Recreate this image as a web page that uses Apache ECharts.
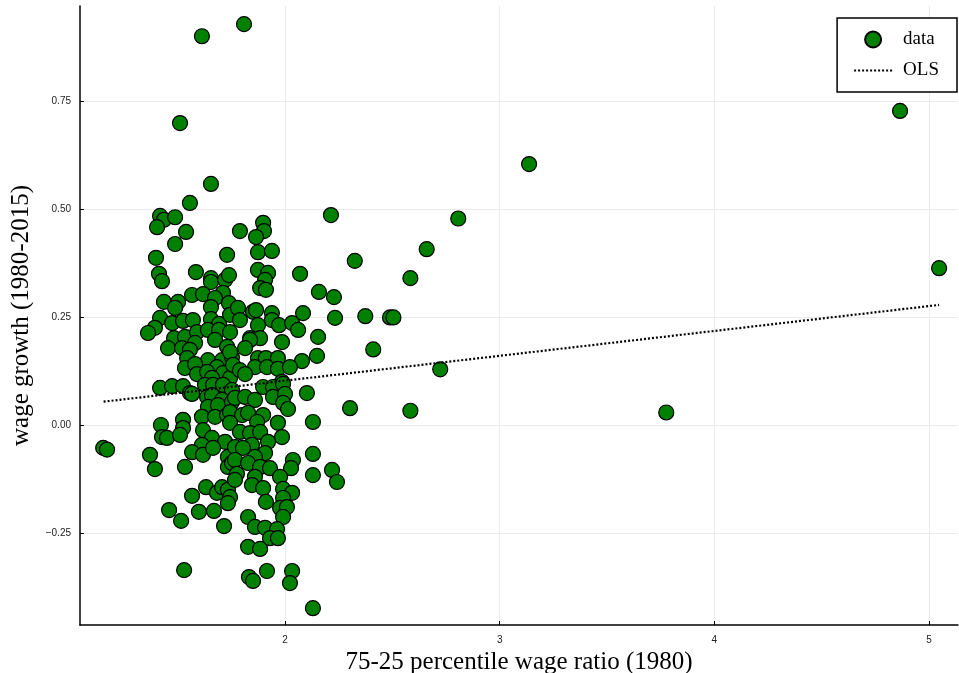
<!DOCTYPE html>
<html>
<head>
<meta charset="utf-8">
<script src="https://cdn.jsdelivr.net/npm/echarts@6/dist/echarts.min.js"></script>
<style>
  html, body { margin: 0; padding: 0; background: #fff; }
  #main { width: 959px; height: 673px; }
</style>
</head>
<body>
<div id="main"></div>
<script>
// values
var wageData = [
  [1.613,0.900],[1.809,0.928],[1.511,0.699],[1.655,0.558],[1.557,0.514],
  [1.418,0.484],[1.436,0.475],[1.488,0.481],[1.404,0.458],[1.539,0.447],
  [1.488,0.419],[1.399,0.387],[1.730,0.394],[1.413,0.350],[1.427,0.333],
  [1.585,0.354],[1.655,0.340],[1.655,0.331],[1.721,0.336],[1.739,0.347],
  [1.567,0.301],[1.618,0.303],[1.711,0.306],[1.674,0.294],[1.655,0.273],
  [1.739,0.282],[1.436,0.285],[1.502,0.285],[1.488,0.271],[1.418,0.248],
  [1.474,0.236],[1.525,0.241],[1.571,0.243],[1.655,0.245],[1.693,0.234],
  [1.744,0.255],[1.394,0.225],[1.362,0.213],[1.483,0.201],[1.534,0.204],
  [1.590,0.215],[1.641,0.220],[1.693,0.220],[1.744,0.215],
  [2.214,0.486],[1.898,0.468],[1.902,0.449],[1.865,0.435],[1.790,0.449],
  [1.874,0.400],[1.939,0.403],[1.874,0.359],[1.921,0.352],[1.907,0.336],
  [1.884,0.317],[1.911,0.313],[2.070,0.350],[2.158,0.308],[2.228,0.296],
  [1.781,0.271],[1.851,0.262],[1.865,0.266],[1.790,0.243],[1.939,0.259],
  [1.939,0.243],[1.972,0.231],[1.874,0.231],[2.033,0.236],[2.061,0.220],
  [2.084,0.259],[2.233,0.248],[1.837,0.201],[1.884,0.201],[2.154,0.204],
  [1.986,0.192],
  [2.807,0.478],[2.660,0.407],[2.325,0.380],[2.584,0.340],[5.047,0.363],
  [2.374,0.252],[2.489,0.249],[2.505,0.249],[2.411,0.175],[2.723,0.129],
  [2.303,0.039],[2.584,0.033],[3.776,0.029],[3.137,0.604],[4.865,0.727],
  [1.455,0.178],[1.581,0.190],[1.520,0.178],[1.557,0.174],[1.674,0.197],
  [1.730,0.181],[1.544,0.155],[1.641,0.150],[1.707,0.150],[1.753,0.157],
  [1.534,0.132],[1.581,0.141],[1.683,0.134],[1.590,0.118],[1.637,0.123],
  [1.711,0.120],[1.744,0.109],[1.660,0.109],[1.418,0.086],[1.474,0.090],
  [1.525,0.090],[1.557,0.074],[1.567,0.072],[1.627,0.093],[1.665,0.093],
  [1.711,0.093],[1.753,0.081],[1.637,0.065],[1.660,0.069],[1.707,0.058],
  [1.641,0.042],[1.688,0.046],[1.753,0.053],[1.613,0.019],[1.674,0.019],
  [1.730,0.023],[1.525,0.012],[1.422,0.000],[1.525,-0.007],[1.618,-0.012],
  [1.427,-0.028],[1.450,-0.030],[1.511,-0.023],[1.660,-0.030],[1.721,-0.039],
  [1.613,-0.046],[1.567,-0.063],[1.618,-0.069],[1.665,-0.053],[1.734,-0.074],
  [1.371,-0.069],[1.394,-0.102],[1.534,-0.097],[1.734,-0.097],[1.753,-0.088],
  [1.837,0.197],[1.814,0.178],[1.744,0.169],[1.874,0.155],[1.911,0.155],
  [1.967,0.155],[2.079,0.148],[2.149,0.160],[1.758,0.139],[1.790,0.127],
  [1.860,0.134],[1.916,0.134],[1.967,0.130],[2.023,0.134],[1.814,0.118],
  [1.986,0.100],[1.898,0.088],[1.944,0.088],[1.991,0.095],[2.102,0.074],
  [1.767,0.063],[1.814,0.065],[1.860,0.058],[1.944,0.065],[2.000,0.072],
  [1.991,0.051],[2.014,0.037],[1.744,0.030],[1.800,0.023],[1.828,0.028],
  [1.898,0.023],[1.870,0.007],[2.130,0.007],[1.967,0.005],[1.744,0.005],
  [1.790,-0.016],[1.837,-0.019],[1.884,-0.016],[1.986,-0.028],[1.921,-0.039],
  [1.846,-0.046],[1.767,-0.051],[1.804,-0.053],[1.907,-0.065],[1.860,-0.074],
  [1.767,-0.081],[1.828,-0.088],[1.884,-0.097],[1.930,-0.100],[2.037,-0.081],
  [2.028,-0.100],[2.130,-0.067],[2.219,-0.104],[1.776,-0.113],[1.860,-0.120],
  [1.977,-0.120],[2.130,-0.116],[2.242,-0.132],
  [1.632,-0.144],[1.567,-0.164],[1.683,-0.157],[1.707,-0.144],[1.734,-0.150],
  [1.744,-0.167],[1.734,-0.181],[1.460,-0.197],[1.516,-0.222],[1.599,-0.201],
  [1.669,-0.199],[1.716,-0.234],[1.530,-0.336],
  [1.767,-0.127],[1.846,-0.139],[1.898,-0.146],[1.991,-0.148],[2.033,-0.157],
  [1.911,-0.178],[1.991,-0.169],[1.977,-0.192],[2.009,-0.190],[1.991,-0.213],
  [1.828,-0.213],[1.860,-0.236],[1.907,-0.238],[1.963,-0.241],[1.930,-0.262],
  [1.967,-0.262],[1.828,-0.282],[1.884,-0.287],[1.832,-0.352],[1.851,-0.361],
  [1.916,-0.338],[2.033,-0.338],[2.023,-0.366],[2.130,-0.424],
  [1.153,-0.053],[1.171,-0.057]
];

// OLS fit line end points
var olsLine = [[1.155, 0.054], [5.047, 0.278]];

var xTicks = [2, 3, 4, 5];
var yTicks = [-0.25, 0, 0.25, 0.5, 0.75];

var serif = "'Liberation Serif', 'DejaVu Serif', serif";
var sans = "'Liberation Sans', 'DejaVu Sans', sans-serif";

var chart = echarts.init(document.getElementById('main'));
chart.setOption({
  animation: false,
  backgroundColor: '#fff',
  grid: { left: 80, right: 1, top: 6, bottom: 48, containLabel: false, outerBoundsMode: 'none' },
  legend: {
    right: 2,
    top: 18,
    orient: 'vertical',
    backgroundColor: '#fff',
    borderColor: '#000',
    borderWidth: 1.5,
    borderRadius: 0,
    padding: [12, 18, 12, 16],
    itemGap: 12,
    itemWidth: 38,
    itemHeight: 16,
    textStyle: { fontFamily: serif, fontSize: 19, color: '#000', padding: [0, 0, 0, 6] },
    data: [
      { name: 'data' },
      { name: 'OLS', itemStyle: { color: 'rgba(0,0,0,0)', borderColor: 'rgba(0,0,0,0)', borderWidth: 0 } }
    ]
  },
  xAxis: {
    type: 'value',
    min: 1.045,
    max: 5.135,
    name: '75-25 percentile wage ratio (1980)',
    nameLocation: 'middle',
    nameGap: 17,
    nameTextStyle: { fontFamily: serif, fontSize: 25, color: '#000' },
    axisLine: { show: true, onZero: false, lineStyle: { color: '#000', width: 1.5 } },
    axisTick: { show: true, inside: true, length: 4, customValues: xTicks, lineStyle: { color: '#000' } },
    axisLabel: { customValues: xTicks, fontFamily: sans, fontSize: 10, color: '#222', margin: 10 },
    splitLine: { show: true, lineStyle: { color: '#ebebeb', width: 1 } }
  },
  yAxis: {
    type: 'value',
    min: -0.463,
    max: 0.97,
    name: 'wage growth (1980-2015)',
    nameLocation: 'middle',
    nameGap: 46,
    nameTextStyle: { fontFamily: serif, fontSize: 25, color: '#000' },
    axisLine: { show: true, onZero: false, lineStyle: { color: '#000', width: 1.5 } },
    axisTick: { show: true, inside: true, length: 4, customValues: yTicks, lineStyle: { color: '#000' } },
    axisLabel: {
      customValues: yTicks,
      fontFamily: sans,
      fontSize: 10,
      color: '#222',
      margin: 9,
      formatter: function (v) {
        var s = Math.abs(v).toFixed(2);
        return v < 0 ? '\u2212' + s : s;
      }
    },
    splitLine: { show: true, lineStyle: { color: '#ebebeb', width: 1 } }
  },
  series: [
    {
      name: 'data',
      type: 'scatter',
      data: wageData,
      symbol: 'circle',
      symbolSize: 15,
      itemStyle: { color: '#008000', borderColor: '#000', borderWidth: 1.2, opacity: 1 },
      z: 2
    },
    {
      name: 'OLS',
      type: 'line',
      data: olsLine,
      showSymbol: false,
      symbol: 'none',
      lineStyle: { color: '#000', width: 2.2, type: [2, 2] },
      itemStyle: { color: '#000' },
      z: 3
    }
  ]
});
</script>
</body>
</html>
